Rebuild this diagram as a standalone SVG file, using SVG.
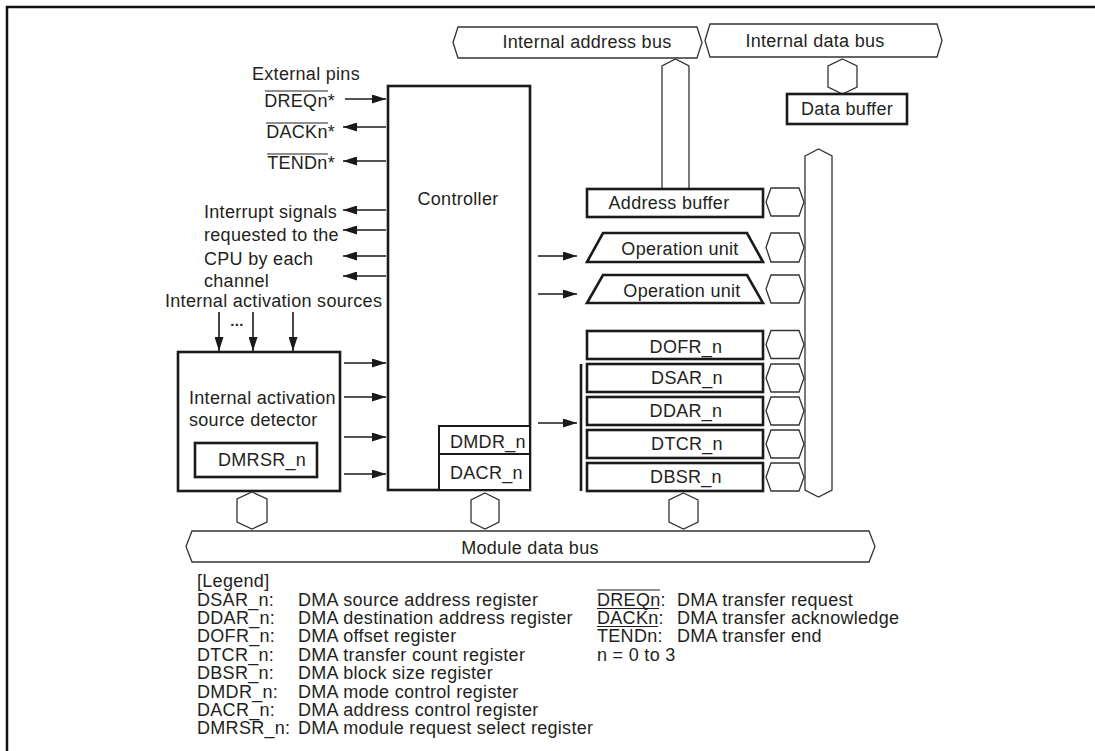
<svg xmlns="http://www.w3.org/2000/svg" width="1095" height="751" viewBox="0 0 1095 751">
<defs>
<marker id="ah" markerUnits="userSpaceOnUse" markerWidth="14" markerHeight="9" refX="14" refY="4.5" orient="auto">
<path d="M0,0 L14,4.5 L0,9 z" fill="#1a1a1a"/>
</marker>
<style>
.t{font-family:"Liberation Sans",Arial,Helvetica,sans-serif;font-size:18px;fill:#231f20;letter-spacing:0.3px}
.m{text-anchor:middle}
.e{text-anchor:end}
.box{fill:#fff;stroke:#1a1a1a;stroke-width:2.6}
.reg{fill:#fff;stroke:#1a1a1a;stroke-width:2}
.bus{fill:#fff;stroke:#333;stroke-width:1.3;stroke-linejoin:miter}
.arr{stroke:#1a1a1a;stroke-width:1.6;fill:none;marker-end:url(#ah)}
.ol{stroke:#231f20;stroke-width:1.2}
</style>
</defs>
<rect x="0" y="0" width="1095" height="751" fill="#fff"/>
<path d="M7,751 V7 H1095" fill="none" stroke="#111" stroke-width="2.5"/>

<g id="internal-address-bus">
<polygon class="bus" points="453,42.5 458,27 697,27 702,42.5 697,58 458,58"/>
<text class="t m" x="587" y="48">Internal address bus</text>
</g>
<g id="internal-data-bus">
<polygon class="bus" points="705,40.5 710,24 937,24 942,40.5 937,57 710,57"/>
<text class="t m" x="815" y="47">Internal data bus</text>
</g>
<g id="data-buffer">
<polygon class="bus" points="842.5,59 857,66 857,87 842.5,94 828,87 828,66"/>
<rect class="box" x="787" y="94" width="120" height="30"/>
<text class="t m" x="847" y="115">Data buffer</text>
</g>

<g id="external-pins">
<text class="t" x="252" y="80">External pins</text>
<text class="t e" x="335" y="107">DREQn*</text>
<line class="ol" x1="265" y1="91" x2="328" y2="91"/>
<text class="t e" x="335" y="138">DACKn*</text>
<line class="ol" x1="266" y1="123" x2="328" y2="123"/>
<text class="t e" x="335" y="169">TENDn*</text>
<line class="ol" x1="267" y1="154" x2="328" y2="154"/>
</g>
<g id="interrupt-signals">
<text class="t" x="204" y="218">Interrupt signals</text>
<text class="t" x="204" y="241">requested to the</text>
<text class="t" x="204" y="265">CPU by each</text>
<text class="t" x="204" y="287">channel</text>
</g>
<g id="internal-activation-sources">
<text class="t" x="165" y="307">Internal activation sources</text>
<text class="t m" x="237" y="326" style="font-weight:bold;font-size:15px">...</text>
</g>

<g id="controller">
<rect class="box" x="388" y="86" width="142" height="404"/>
<text class="t m" x="458" y="205">Controller</text>
<rect class="reg" x="439" y="426" width="91" height="28"/>
<text class="t" x="450" y="448">DMDR_n</text>
<rect class="reg" x="439" y="454" width="91" height="36"/>
<text class="t" x="450" y="479">DACR_n</text>
</g>

<g id="detector">
<rect class="box" x="178" y="352" width="162" height="139"/>
<text class="t" x="189" y="404">Internal activation</text>
<text class="t" x="189" y="426">source detector</text>
<rect class="box" x="195" y="443" width="122" height="34"/>
<text class="t" x="218" y="466">DMRSR_n</text>
</g>

<g id="address-buffer">
<path class="bus" d="M662,189 V66 L675.5,59 L689,66 V189"/>
<rect class="box" x="587" y="189" width="176" height="28"/>
<text class="t m" x="669" y="209">Address buffer</text>
</g>
<g id="operation-unit-1">
<polygon class="box" points="587,262 603,233 747,233 763,262"/>
<text class="t m" x="680" y="255">Operation unit</text>
</g>
<g id="operation-unit-2">
<polygon class="box" points="587,303 603,275 747,275 763,303"/>
<text class="t m" x="682" y="297">Operation unit</text>
</g>
<g id="registers">
<rect class="box" x="587" y="331" width="176" height="28"/>
<text class="t m" x="686" y="353">DOFR_n</text>
<rect class="box" x="587" y="364" width="176" height="28"/>
<text class="t m" x="687" y="384">DSAR_n</text>
<rect class="box" x="587" y="397" width="176" height="28"/>
<text class="t m" x="686" y="417">DDAR_n</text>
<rect class="box" x="587" y="430" width="176" height="28"/>
<text class="t m" x="687" y="450">DTCR_n</text>
<rect class="box" x="587" y="463" width="176" height="28"/>
<text class="t m" x="686" y="483">DBSR_n</text>
<line x1="581" y1="364" x2="581" y2="491" stroke="#1a1a1a" stroke-width="2.6"/>
</g>

<g id="right-data-bus">
<polygon class="bus" points="805,156 818.5,149 832,156 832,490 818.5,497 805,490"/>
<polygon class="bus" points="766,202 771,188 799,188 804,202 799,216 771,216"/>
<polygon class="bus" points="766,247.5 771,233 799,233 804,247.5 799,262 771,262"/>
<polygon class="bus" points="766,289 771,275 799,275 804,289 799,303 771,303"/>
<polygon class="bus" points="766,344.5 771,330.5 799,330.5 804,344.5 799,358.5 771,358.5"/>
<polygon class="bus" points="766,378 771,364 799,364 804,378 799,392 771,392"/>
<polygon class="bus" points="766,411 771,397 799,397 804,411 799,425 771,425"/>
<polygon class="bus" points="766,444 771,430 799,430 804,444 799,458 771,458"/>
<polygon class="bus" points="766,477 771,463 799,463 804,477 799,491 771,491"/>
</g>

<g id="module-data-bus">
<polygon class="bus" points="252,492 267,499 267,522 252,529 237,522 237,499"/>
<polygon class="bus" points="485,493 499,500 499,522 485,529 471,522 471,500"/>
<polygon class="bus" points="683.5,493 698,500 698,522 683.5,529 669,522 669,500"/>
<polygon class="bus" points="186,546.5 192,531 869,531 875,546.5 869,562 192,562"/>
<text class="t m" x="530" y="554">Module data bus</text>
</g>

<g id="connectors">
<line class="arr" x1="345" y1="99" x2="386" y2="99"/>
<line class="arr" x1="386" y1="127" x2="343" y2="127"/>
<line class="arr" x1="386" y1="161" x2="343" y2="161"/>
<line class="arr" x1="386" y1="210" x2="343" y2="210"/>
<line class="arr" x1="386" y1="230" x2="343" y2="230"/>
<line class="arr" x1="386" y1="256" x2="343" y2="256"/>
<line class="arr" x1="386" y1="276" x2="343" y2="276"/>
<line class="arr" x1="219" y1="312" x2="219" y2="351"/>
<line class="arr" x1="253" y1="312" x2="253" y2="351"/>
<line class="arr" x1="293" y1="312" x2="293" y2="351"/>
<line class="arr" x1="344" y1="363" x2="386" y2="363"/>
<line class="arr" x1="344" y1="397" x2="386" y2="397"/>
<line class="arr" x1="344" y1="437" x2="386" y2="437"/>
<line class="arr" x1="344" y1="474" x2="386" y2="474"/>
<line class="arr" x1="538" y1="256" x2="577" y2="256"/>
<line class="arr" x1="538" y1="294" x2="577" y2="294"/>
<line class="arr" x1="538" y1="423" x2="577" y2="423"/>
</g>

<g id="legend">
<text class="t" x="197" y="587">[Legend]</text>
<text class="t" x="197" y="605.5">DSAR_n:</text><text class="t" x="298" y="605.5">DMA source address register</text>
<text class="t" x="197" y="624">DDAR_n:</text><text class="t" x="298" y="624">DMA destination address register</text>
<text class="t" x="197" y="642">DOFR_n:</text><text class="t" x="298" y="642">DMA offset register</text>
<text class="t" x="197" y="660.5">DTCR_n:</text><text class="t" x="298" y="660.5">DMA transfer count register</text>
<text class="t" x="197" y="679">DBSR_n:</text><text class="t" x="298" y="679">DMA block size register</text>
<text class="t" x="197" y="697.5">DMDR_n:</text><text class="t" x="298" y="697.5">DMA mode control register</text>
<text class="t" x="197" y="716">DACR_n:</text><text class="t" x="298" y="716">DMA address control register</text>
<text class="t" x="197" y="734">DMRSR_n:</text><text class="t" x="298" y="734">DMA module request select register</text>
<text class="t" x="597" y="605.5">DREQn:</text><text class="t" x="677" y="605.5">DMA transfer request</text>
<line class="ol" x1="597" y1="590" x2="660" y2="590"/>
<text class="t" x="597" y="624">DACKn:</text><text class="t" x="677" y="624">DMA transfer acknowledge</text>
<line class="ol" x1="597" y1="608.5" x2="659" y2="608.5"/>
<text class="t" x="597" y="642">TENDn:</text><text class="t" x="677" y="642">DMA transfer end</text>
<line class="ol" x1="597" y1="626.5" x2="658" y2="626.5"/>
<text class="t" x="597" y="660.5">n = 0 to 3</text>
</g>
</svg>
